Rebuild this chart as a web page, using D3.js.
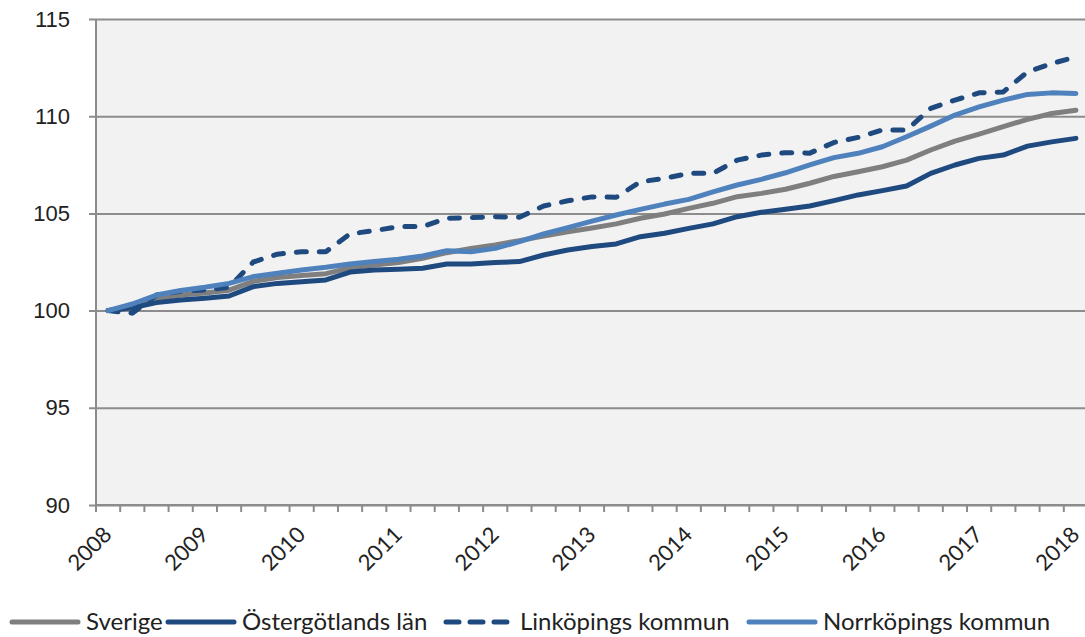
<!DOCTYPE html>
<html>
<head>
<meta charset="utf-8">
<script src="https://cdn.jsdelivr.net/npm/d3@7"></script>
<style>
  body { margin: 0; background: #fff; }
  svg { display: block; font-family: Lato, "Open Sans", sans-serif; }
</style>
</head>
<body>
<svg id="chart" width="1085" height="637"></svg>
<script>
const years = [2008, 2009, 2010, 2011, 2012, 2013, 2014, 2015, 2016, 2017, 2018];
// quarterly categories, 2008 K1 .. 2018 K1
const quarters = years.flatMap(y => y === 2018 ? [`${y}K1`] : [1, 2, 3, 4].map(q => `${y}K${q}`));

const yTicks = [90, 95, 100, 105, 110, 115];

const sverige = [100, 100.25, 100.6, 100.8, 100.9, 101.05, 101.5, 101.7, 101.8, 101.9,
  102.2, 102.35, 102.47, 102.69, 102.98, 103.2, 103.38, 103.6, 103.84, 104.06,
  104.25, 104.46, 104.75, 104.97, 105.26, 105.52, 105.86, 106.03, 106.24, 106.55,
  106.9, 107.14, 107.4, 107.74, 108.26, 108.72, 109.08, 109.46, 109.84, 110.14, 110.31];

const ostergotland = [100, 100.15, 100.41, 100.55, 100.64, 100.75, 101.23, 101.4, 101.49, 101.58,
  101.98, 102.09, 102.13, 102.18, 102.4, 102.4, 102.47, 102.52, 102.86, 103.12,
  103.3, 103.43, 103.8, 103.98, 104.23, 104.46, 104.83, 105.06, 105.21, 105.38,
  105.66, 105.95, 106.17, 106.41, 107.06, 107.49, 107.83, 108.0, 108.46, 108.68, 108.86];

const linkoping = [100, 99.87, 100.8, 101.0, 101.06, 101.2, 102.5, 102.9, 103.03, 103.03,
  103.95, 104.11, 104.32, 104.32, 104.75, 104.78, 104.83, 104.8, 105.38, 105.65,
  105.85, 105.83, 106.63, 106.8, 107.06, 107.06, 107.74, 108.0, 108.12, 108.1,
  108.65, 108.91, 109.29, 109.29, 110.4, 110.83, 111.2, 111.25, 112.28, 112.71, 113.05];

const norrkoping = [100, 100.34, 100.8, 101.03, 101.2, 101.4, 101.75, 101.92, 102.09, 102.23,
  102.4, 102.52, 102.64, 102.81, 103.08, 103.03, 103.2, 103.55, 103.94, 104.27,
  104.6, 104.92, 105.21, 105.48, 105.72, 106.11, 106.46, 106.75, 107.09, 107.49,
  107.87, 108.09, 108.43, 108.94, 109.49, 110.06, 110.48, 110.83, 111.12, 111.2, 111.17];

const series = [
  { name: "Sverige", values: sverige, color: "#7f7f7f", dash: null },
  { name: "Östergötlands län", values: ostergotland, color: "#1f4a80", dash: null },
  { name: "Linköpings kommun", values: linkoping, color: "#1f4a80", dash: "10,13" },
  { name: "Norrköpings kommun", values: norrkoping, color: "#4f81bd", dash: null },
];

const plot = { left: 96, right: 1088, top: 19, bottom: 505 };
const legendX = [12, 168, 446, 749];

const svg = d3.select("#chart");

const x = d3.scaleBand()
  .domain(quarters)
  .range([plot.left, plot.right]);

const y = d3.scaleLinear()
  .domain([90, 115])
  .range([plot.bottom, plot.top]);

// plot background
svg.append("rect")
  .attr("x", plot.left)
  .attr("y", plot.top)
  .attr("width", plot.right - plot.left)
  .attr("height", plot.bottom - plot.top)
  .attr("fill", "#f2f2f2");

// horizontal grid + y axis
const yAxis = svg.append("g")
  .attr("transform", `translate(${plot.left},0)`)
  .call(d3.axisLeft(y).tickValues(yTicks).tickSize(7).tickPadding(19))
  .call(g => g.select(".domain").remove());

yAxis.selectAll(".tick line")
  .attr("stroke", "#8c8c8c")
  .attr("stroke-width", 2)
  .attr("x1", plot.right - plot.left)
  .attr("x2", -7);

yAxis.selectAll(".tick text")
  .attr("fill", "#222")
  .style("font-size", "22px");

svg.append("line")
  .attr("x1", plot.left).attr("x2", plot.left)
  .attr("y1", plot.top).attr("y2", plot.bottom)
  .attr("stroke", "#8c8c8c")
  .attr("stroke-width", 2);

// x axis: ticks between quarters, labels at first quarter of each year
const xAxis = svg.append("g")
  .attr("transform", `translate(0,${plot.bottom})`);

xAxis.append("line")
  .attr("x1", plot.left).attr("x2", plot.right)
  .attr("stroke", "#8c8c8c")
  .attr("stroke-width", 2);

xAxis.selectAll("line.tick")
  .data(quarters)
  .join("line")
  .attr("class", "tick")
  .attr("x1", d => x(d)).attr("x2", d => x(d))
  .attr("y1", 0).attr("y2", 7)
  .attr("stroke", "#8c8c8c")
  .attr("stroke-width", 2);

xAxis.selectAll("text")
  .data(years)
  .join("text")
  .attr("transform", d => `translate(${x(d + "K1") + x.bandwidth() / 2 + 5},${31}) rotate(-45)`)
  .attr("text-anchor", "end")
  .attr("fill", "#222")
  .style("font-size", "22px")
  .text(d => d);

// lines
const line = d3.line()
  .x((d, i) => x(quarters[i]) + x.bandwidth() / 2)
  .y(d => y(d));

svg.append("g")
  .selectAll("path")
  .data(series)
  .join("path")
  .attr("d", d => line(d.values))
  .attr("fill", "none")
  .attr("stroke", d => d.color)
  .attr("stroke-width", 5)
  .attr("stroke-linejoin", "round")
  .attr("stroke-linecap", "round")
  .attr("stroke-dasharray", d => d.dash);

// legend
const legend = svg.append("g")
  .attr("transform", "translate(0,622)");

const items = legend.selectAll("g")
  .data(series)
  .join("g")
  .attr("transform", (d, i) => `translate(${legendX[i]},0)`);

items.append("line")
  .attr("x1", 0).attr("x2", 66)
  .attr("stroke", d => d.color)
  .attr("stroke-width", 5)
  .attr("stroke-linecap", "round")
  .attr("stroke-dasharray", d => d.dash ? "13,11" : null);

items.append("text")
  .attr("x", 74)
  .attr("dy", "0.35em")
  .attr("fill", "#222")
  .style("font-size", "24px")
  .text(d => d.name);
</script>
</body>
</html>
